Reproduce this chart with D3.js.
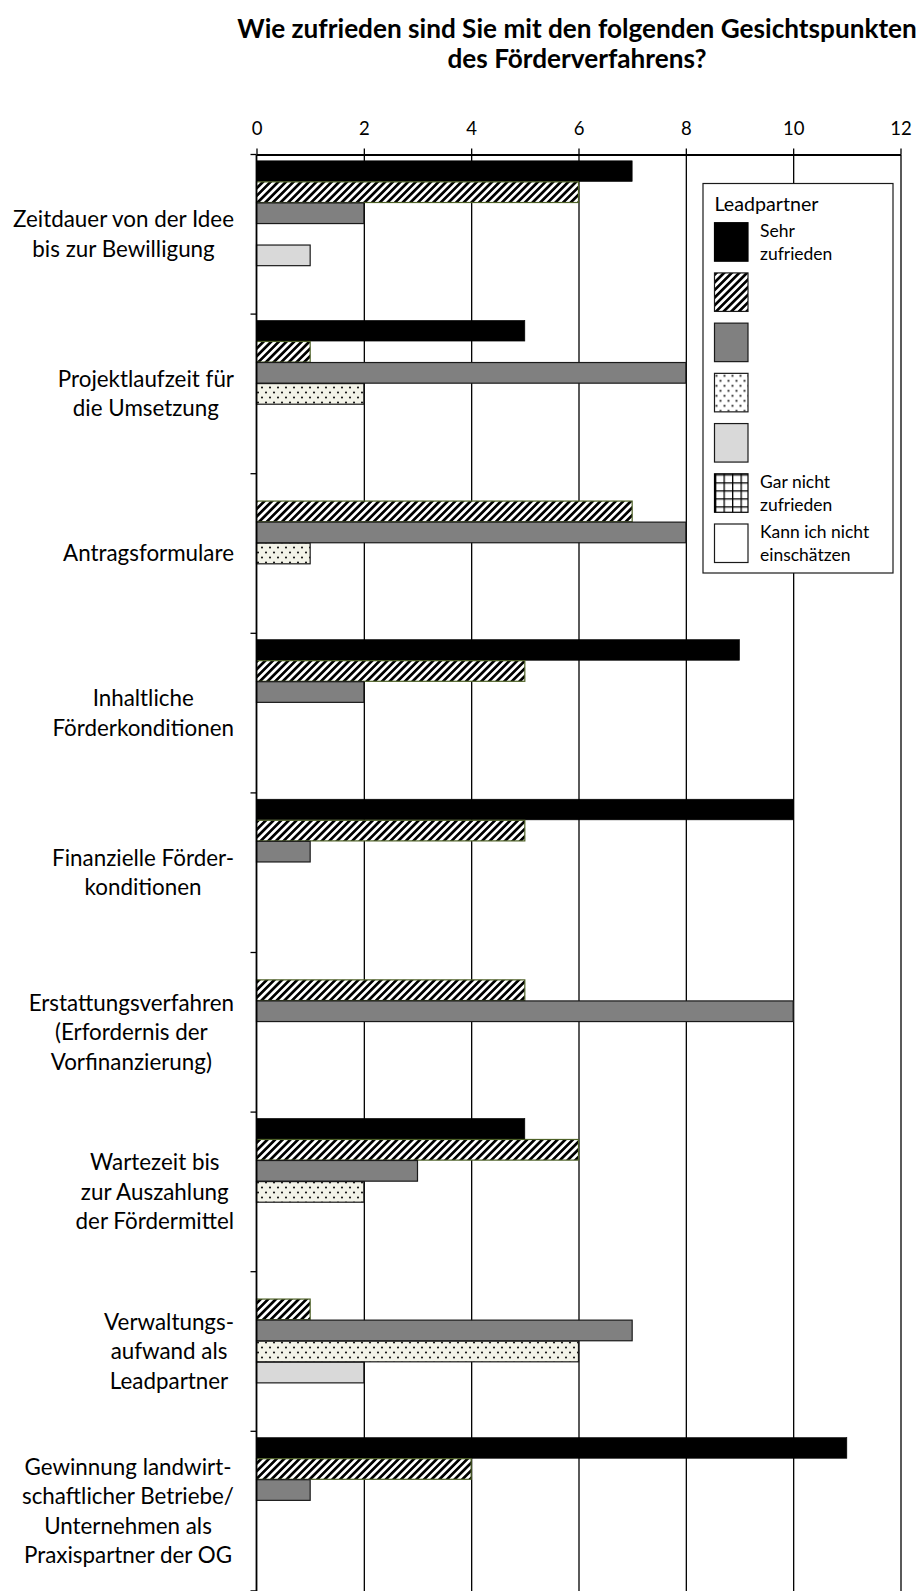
<!DOCTYPE html>
<html>
<head>
<meta charset="utf-8">
<script src="https://cdn.jsdelivr.net/npm/d3@7"></script>
<style>
  html, body { margin: 0; padding: 0; background: #fff; }
  svg { display: block; }
</style>
</head>
<body>
<svg id="chart" width="919" height="1591"></svg>
<script>
// Survey answers of the lead partners: number of respondents per satisfaction level
const titleLines = ["Wie zufrieden sind Sie mit den folgenden Gesichtspunkten", "des Förderverfahrens?"];

const categories = [
  ["Zeitdauer von der Idee", "bis zur Bewilligung"],
  ["Projektlaufzeit für", "die Umsetzung"],
  ["Antragsformulare"],
  ["Inhaltliche", "Förderkonditionen"],
  ["Finanzielle Förder-", "konditionen"],
  ["Erstattungsverfahren", "(Erfordernis der", "Vorfinanzierung)"],
  ["Wartezeit bis", "zur Auszahlung", "der Fördermittel"],
  ["Verwaltungs-", "aufwand als", "Leadpartner"],
  ["Gewinnung landwirt-", "schaftlicher Betriebe/", "Unternehmen als", "Praxispartner der OG"]
];

const legendTitle = "Leadpartner";
const seriesLabels = [
  ["Sehr", "zufrieden"], [], [], [], [],
  ["Gar nicht", "zufrieden"],
  ["Kann ich  nicht", "einschätzen"]
];

const sehrZufrieden   = [7, 5, 0, 9, 10, 0, 5, 0, 11];
const stufe2          = [6, 1, 7, 5, 5, 5, 6, 1, 4];
const stufe3          = [2, 8, 8, 2, 1, 10, 3, 7, 1];
const stufe4          = [0, 2, 1, 0, 0, 0, 2, 6, 0];
const stufe5          = [1, 0, 0, 0, 0, 0, 0, 2, 0];
const garNichtZufrieden = [0, 0, 0, 0, 0, 0, 0, 0, 0];
const kannNichtEinschaetzen = [0, 0, 0, 0, 0, 0, 0, 0, 0];

const tickValues = [0, 2, 4, 6, 8, 10, 12];

const seriesValues = [sehrZufrieden, stufe2, stufe3, stufe4, stufe5, garNichtZufrieden, kannNichtEinschaetzen];

const FONT = "Lato, 'Open Sans', sans-serif";
const svg = d3.select("#chart");
const defs = svg.append("defs");

// --- fill patterns ---------------------------------------------------------
const hatch = defs.append("pattern").attr("id", "hatch")
  .attr("patternUnits", "userSpaceOnUse").attr("width", 5.4).attr("height", 5.4)
  .attr("patternTransform", "rotate(45)");
hatch.append("rect").attr("width", 5.4).attr("height", 5.4).attr("fill", "#fff");
hatch.append("rect").attr("width", 2.7).attr("height", 5.4).attr("fill", "#000");

function dotPattern(id, bg) {
  const p = defs.append("pattern").attr("id", id)
    .attr("patternUnits", "userSpaceOnUse").attr("width", 8).attr("height", 10);
  p.append("rect").attr("width", 8).attr("height", 10).attr("fill", bg);
  p.append("circle").attr("cx", 2).attr("cy", 2.5).attr("r", 1.05).attr("fill", "#111");
  p.append("circle").attr("cx", 6).attr("cy", 7.5).attr("r", 1.05).attr("fill", "#111");
}
dotPattern("dots", "#f3f3e8");
dotPattern("dotsLegend", "#fff");

const grid = defs.append("pattern").attr("id", "grid")
  .attr("patternUnits", "userSpaceOnUse").attr("width", 8.5).attr("height", 8)
  .attr("x", 0.5).attr("y", 0.5);
grid.append("rect").attr("width", 8.5).attr("height", 8).attr("fill", "#fff");
grid.append("rect").attr("width", 1.3).attr("height", 8).attr("fill", "#000");
grid.append("rect").attr("width", 8.5).attr("height", 1.3).attr("fill", "#000");

const seriesStyle = [
  { fill: "#000",            stroke: "#000",    sw: 0.6 },
  { fill: "url(#hatch)",     stroke: "#4f6228", sw: 1.2 },
  { fill: "#808080",         stroke: "#1a1a1a", sw: 1.2 },
  { fill: "url(#dots)",      stroke: "#1a1a1a", sw: 1.2, legendFill: "url(#dotsLegend)" },
  { fill: "#d9d9d9",         stroke: "#1a1a1a", sw: 1.2 },
  { fill: "url(#grid)",      stroke: "#000",    sw: 1.2 },
  { fill: "#fff",            stroke: "#1a1a1a", sw: 1.2 }
];

// --- text sizing helper: font size giving a sample string a given width -----
function fitSize(sample, targetWidth, weight) {
  const t = svg.append("text")
    .attr("font-family", FONT).attr("font-weight", weight || "normal")
    .attr("font-size", 100).text(sample);
  const w = t.node().getComputedTextLength();
  t.remove();
  return 100 * targetWidth / w;
}

const titleSize  = fitSize(titleLines[0], 680, "bold");
const catSize    = fitSize(categories[0][0], 221);
const tickSize   = fitSize("10", 21.5);
const legTitleSz = fitSize(legendTitle, 104);
const legItemSz  = fitSize("einschätzen", 90.5);

// --- scales ---------------------------------------------------------------
const plot = { left: 256.5, right: 900.5, top: 154.5, bottom: 1591 };

const x = d3.scaleLinear().domain([0, 12]).range([plot.left, plot.right]);

const y0 = d3.scaleBand()
  .domain(d3.range(categories.length))
  .range([plot.top, plot.top + 159.6 * categories.length])
  .paddingInner(0).paddingOuter(0);

const y1 = d3.scaleBand()
  .domain(d3.range(seriesValues.length))
  .range([0, y0.bandwidth()])
  .paddingInner(0.02).paddingOuter(0.3);

// --- title ----------------------------------------------------------------
svg.append("g").selectAll("text").data(titleLines).join("text")
  .attr("x", 577)
  .attr("y", (d, i) => 28.5 + i * 30.4)
  .attr("dy", "0.35em")
  .attr("text-anchor", "middle")
  .attr("font-family", FONT).attr("font-weight", "bold")
  .attr("font-size", titleSize)
  .attr("fill", "#000")
  .text(d => d);

// --- vertical gridlines ----------------------------------------------------
svg.append("g")
  .attr("transform", `translate(0,${plot.top})`)
  .call(d3.axisTop(x).tickValues(tickValues.slice(1)).tickSize(-(plot.bottom - plot.top)).tickFormat(""))
  .call(g => g.select(".domain").remove())
  .call(g => g.selectAll("line").attr("stroke", "#000").attr("stroke-width", 1.3));

// --- bars -----------------------------------------------------------------
const barData = [];
categories.forEach((c, ci) => {
  seriesValues.forEach((vals, si) => {
    if (vals[ci] > 0) barData.push({ ci, si, v: vals[ci] });
  });
});

svg.append("g").selectAll("rect").data(barData).join("rect")
  .attr("x", x(0))
  .attr("y", d => y0(d.ci) + y1(d.si))
  .attr("width", d => x(d.v) - x(0))
  .attr("height", y1.bandwidth())
  .attr("fill", d => seriesStyle[d.si].fill)
  .attr("stroke", d => seriesStyle[d.si].stroke)
  .attr("stroke-width", d => seriesStyle[d.si].sw);

// --- top value axis -------------------------------------------------------
const xAxis = svg.append("g")
  .attr("transform", `translate(0,${plot.top})`)
  .call(d3.axisTop(x).tickValues(tickValues).tickSize(6).tickSizeOuter(0).tickPadding(14).tickFormat(d3.format("d")));
xAxis.select(".domain").attr("stroke", "#000").attr("stroke-width", 1.8);
xAxis.selectAll(".tick line").attr("stroke", "#000").attr("stroke-width", 1.3);
xAxis.selectAll(".tick text")
  .attr("font-family", FONT).attr("font-size", tickSize).attr("fill", "#000");

// --- left category axis (ticks on band boundaries) -------------------------
const leftAxis = svg.append("g");
leftAxis.append("line")
  .attr("x1", x(0)).attr("x2", x(0))
  .attr("y1", plot.top).attr("y2", plot.bottom)
  .attr("stroke", "#000").attr("stroke-width", 1.8);
const boundaries = y0.domain().map(d => y0(d)).concat([y0.range()[1]]);
leftAxis.selectAll("line.tick").data(boundaries).join("line")
  .attr("class", "tick")
  .attr("x1", x(0) - 6).attr("x2", x(0))
  .attr("y1", d => d).attr("y2", d => d)
  .attr("stroke", "#000").attr("stroke-width", 1.3);

// --- category labels: lines centred within a block right-aligned to the axis
const labelRight = 234;
const lineH = 29.5;
const labels = svg.append("g")
  .attr("font-family", FONT).attr("font-size", catSize).attr("fill", "#000");
categories.forEach((lines, ci) => {
  const g = labels.append("g");
  const texts = g.selectAll("text").data(lines).join("text")
    .attr("text-anchor", "middle")
    .attr("dy", "0.35em")
    .attr("y", (d, i) => y0(ci) + y0.bandwidth() / 2 + (i - (lines.length - 1) / 2) * lineH)
    .text(d => d);
  const maxW = d3.max(texts.nodes(), n => n.getComputedTextLength());
  texts.attr("x", labelRight - maxW / 2);
});

// --- legend ---------------------------------------------------------------
const legend = svg.append("g");
legend.append("rect")
  .attr("x", 703).attr("y", 183.5).attr("width", 190).attr("height", 389.5)
  .attr("fill", "#fff").attr("stroke", "#1a1a1a").attr("stroke-width", 1.2);
legend.append("text")
  .attr("x", 714.5).attr("y", 210.5)
  .attr("font-family", FONT).attr("font-size", legTitleSz).attr("fill", "#000")
  .text(legendTitle);

const legRowY = d3.scaleLinear().domain([0, 6]).range([222.7, 524]);
const items = legend.selectAll("g.item").data(seriesStyle).join("g")
  .attr("class", "item")
  .attr("transform", (d, i) => `translate(714.5,${legRowY(i)})`);
items.append("rect")
  .attr("width", 33.5).attr("height", 38.5)
  .attr("fill", d => d.legendFill || d.fill)
  .attr("stroke", d => d.stroke === "#4f6228" ? "#1a1a1a" : d.stroke)
  .attr("stroke-width", 1.2);
items.each(function(d, i) {
  const lines = seriesLabels[i];
  d3.select(this).selectAll("text").data(lines).join("text")
    .attr("x", 45.5)
    .attr("y", (t, j) => 19.5 + (j - (lines.length - 1) / 2) * 23.5)
    .attr("dy", "0.35em")
    .attr("font-family", FONT).attr("font-size", legItemSz).attr("fill", "#000")
    .text(t => t);
});
</script>
</body>
</html>
